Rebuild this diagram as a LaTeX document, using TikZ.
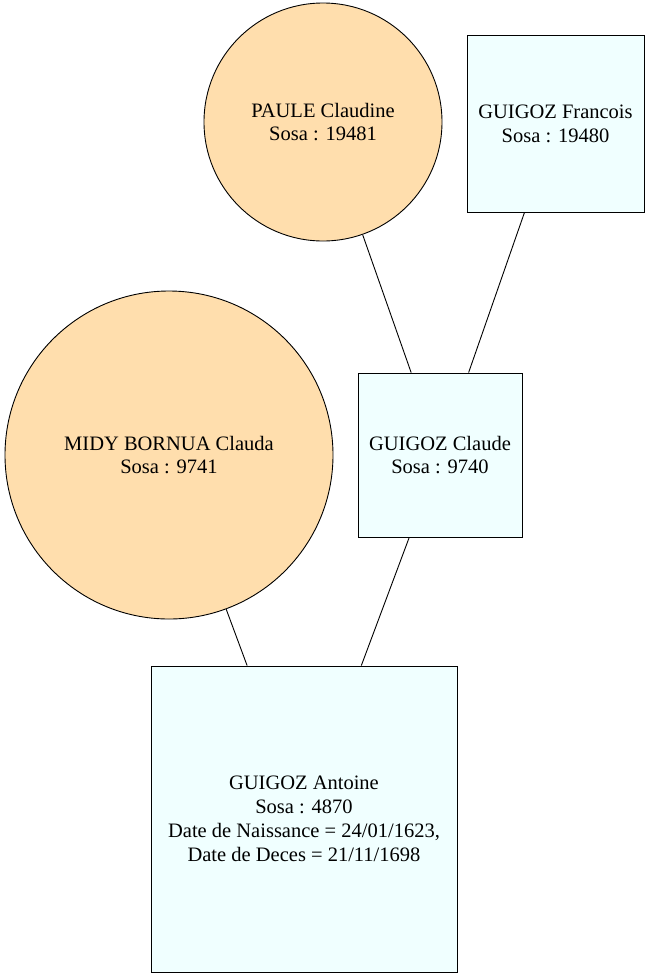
\documentclass[tikz,border=0pt]{standalone}
\usepackage{fontspec}
\setmainfont{Liberation Serif}
\usepackage{tikz}
\usetikzlibrary{shapes}

\definecolor{navajo}{HTML}{FFDEAD}
\definecolor{azurebox}{HTML}{F0FFFF}

\begin{document}
\begin{tikzpicture}[x=1pt,y=-1pt,
			woman node/.style={circle,draw,line width=0.9pt,fill=navajo,inner sep=0pt,align=center,font=\fontsize{20.5}{23.8}\selectfont},
			man node/.style={rectangle,draw,line width=0.9pt,fill=azurebox,inner sep=0pt,align=center,font=\fontsize{20.5}{23.8}\selectfont}
			]

			\useasboundingbox (0,0) rectangle (650,978);

			\node[woman node,minimum size=238pt] at (323,122) (paule) {PAULE Claudine\\Sosa : 19481};
			\node[man node,minimum size=177pt] at (555.5,123.5) (francois) {GUIGOZ Francois\\Sosa : 19480};
			\node[woman node,minimum size=328pt] at (169,455) (midy) {MIDY BORNUA Clauda\\Sosa : 9741};
			\node[man node,minimum size=164pt] at (440,455) (claude) {GUIGOZ Claude\\Sosa : 9740};
			\node[man node,minimum size=306pt] at (304,819) (antoine) {GUIGOZ Antoine\\Sosa : 4870\\Date de Naissance = 24/01/1623,\\Date de Deces = 21/11/1698};

			\draw[line width=0.9pt] (paule) -- (claude);
			\draw[line width=0.9pt] (francois) -- (claude);
			\draw[line width=0.9pt] (midy) -- (antoine);
			\draw[line width=0.9pt] (claude) -- (antoine);
		\end{tikzpicture}
\end{document}
